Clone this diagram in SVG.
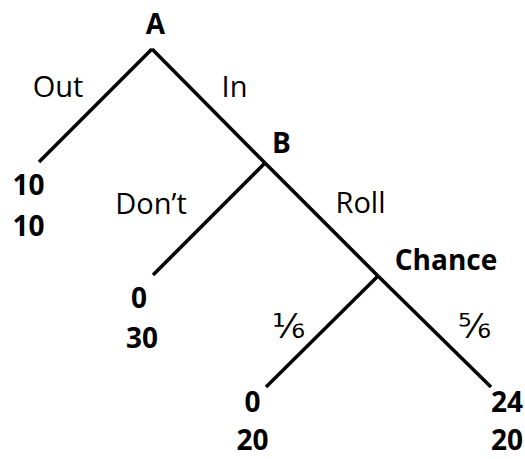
<svg xmlns="http://www.w3.org/2000/svg" width="525" height="459" viewBox="0 0 525 459">
<style>
.e{stroke:#000;stroke-width:3.5;fill:none;stroke-linecap:butt}
.r{font-family:"Open Sans","Liberation Sans",sans-serif;font-size:29px;fill:#000;text-anchor:middle}
.b{font-family:"Open Sans","Liberation Sans",sans-serif;font-size:28px;font-weight:bold;fill:#000;text-anchor:middle}
.f{font-family:"Open Sans","DejaVu Sans",sans-serif;font-size:34px;fill:#000;text-anchor:middle}
</style>
<rect width="525" height="459" fill="#fff"/>
<g id="connectors">
<line class="e" x1="152" y1="49" x2="39" y2="162"/>
<line class="e" x1="152" y1="49" x2="265" y2="163"/>
<line class="e" x1="265" y1="163" x2="153" y2="275"/>
<line class="e" x1="265" y1="163" x2="378" y2="276"/>
<line class="e" x1="378" y1="276" x2="266" y2="387"/>
<line class="e" x1="378" y1="276" x2="491" y2="387"/>
<text class="r" x="58" y="97">Out</text>
<text class="r" x="234.5" y="97">In</text>
<text class="r" x="151" y="214">Don’t</text>
<text class="r" x="360.5" y="213">Roll</text>
<text class="f" x="288.5" y="338">⅙</text>
<text class="f" x="474.5" y="338">⅚</text>
</g>
<g id="nodeA"><text class="b" x="155.5" y="34">A</text></g>
<g id="nodeB"><text class="b" x="281.5" y="153">B</text></g>
<g id="nodeChance"><text class="b" x="446" y="270" font-size="26.5">Chance</text></g>
<g id="leafOut"><text class="b" x="28.5" y="195">10</text><text class="b" x="28.5" y="236">10</text></g>
<g id="leafDont"><text class="b" x="139" y="308">0</text><text class="b" x="142" y="348">30</text></g>
<g id="leafOne"><text class="b" x="252.5" y="412">0</text><text class="b" x="252.5" y="450">20</text></g>
<g id="leafFive"><text class="b" x="507" y="412">24</text><text class="b" x="507" y="450">20</text></g>
</svg>
